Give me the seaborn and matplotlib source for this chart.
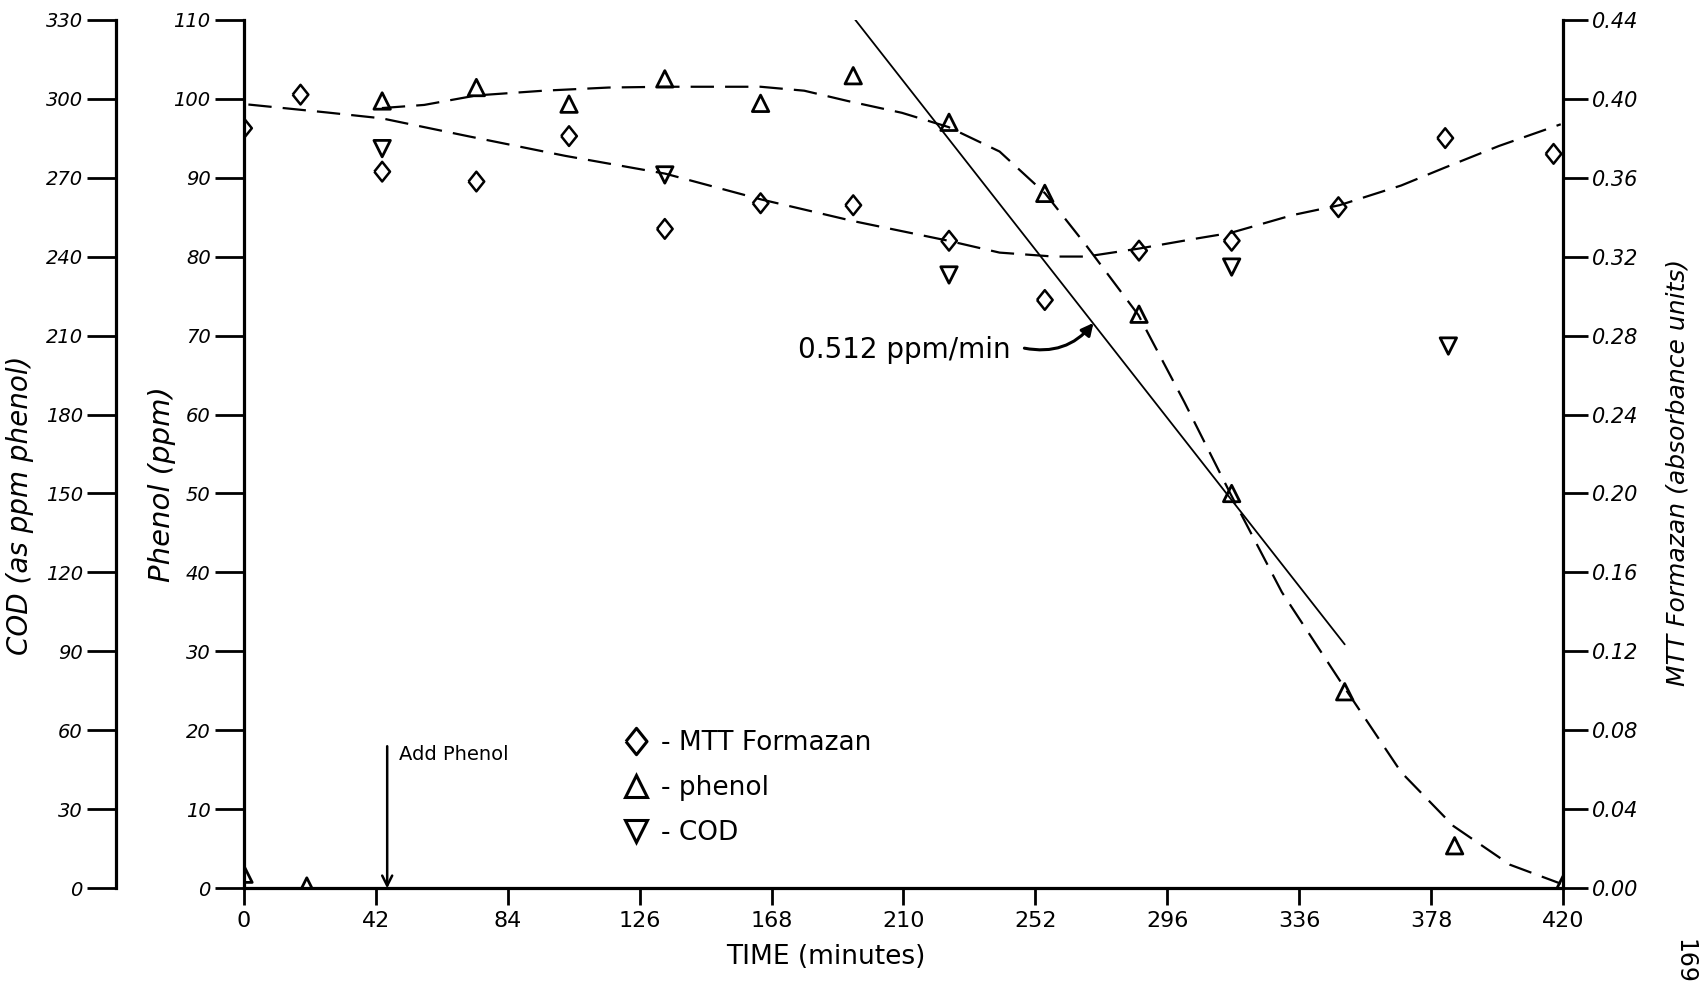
import matplotlib
matplotlib.use("Agg")
import matplotlib.pyplot as plt
import seaborn as sns
import numpy as np
import pandas as pd
from matplotlib.lines import Line2D

# ---------------- data ----------------
mtt_time = [0, 18, 44, 74, 103.5, 134, 164.5, 194, 224.5, 255, 285, 314.5, 348.5, 382.5, 417]
mtt_abs = [0.385, 0.402, 0.363, 0.358, 0.381, 0.334, 0.347, 0.346, 0.328, 0.298, 0.323, 0.328, 0.345, 0.380, 0.372]

phenol_time = [0, 20, 44, 74, 103.5, 134, 164.5, 194, 224.5, 255, 285, 314.5, 350.5, 385.5, 420]
phenol_ppm = [1.8, 0.3, 99.7, 101.4, 99.3, 102.5, 99.4, 102.9, 97.0, 88.0, 72.7, 50.0, 24.9, 5.4, 0.5]

cod_time = [44, 134, 224.5, 314.5, 383.5]
cod_ppm = [281, 271, 233, 236, 206]

mtt_curve_time = [1.4, 26.3, 43.9, 71.2, 102.3, 134.1, 164.5, 193.9, 224.3, 240.6, 257.9, 268.2,
                  284.8, 302.8, 314.2, 333.9, 348.8, 368.5, 382.3, 399.6, 419.3]
mtt_curve_abs = [0.397, 0.393, 0.390, 0.381, 0.371, 0.362, 0.349, 0.338, 0.328, 0.322, 0.320, 0.320,
                 0.324, 0.329, 0.332, 0.341, 0.346, 0.356, 0.365, 0.376, 0.387]

phenol_curve_time = [43.9, 57.4, 74.0, 95.4, 116.1, 134.1, 164.5, 178.4, 192.2, 209.5, 224.3, 240.6,
                     255.1, 268.2, 284.8, 299.4, 314.2, 330.5, 349.8, 368.5, 385.1, 403.1, 419.3]
phenol_curve_ppm = [98.8, 99.2, 100.4, 101.0, 101.4, 101.5, 101.5, 101.0, 99.7, 98.2, 96.4, 93.3,
                    88.0, 81.4, 72.6, 61.6, 49.9, 37.5, 25.8, 14.7, 7.9, 3.0, 0.6]

rate_line_time = [194.6, 350.5]
rate_line_ppm = [110.0, 30.9]

x_tick_values = [0, 42, 84, 126, 168, 210, 252, 294, 336, 378, 420]
x_tick_labels = ["0", "42", "84", "126", "168", "210", "252", "296", "336", "378", "420"]
phenol_ticks = [0, 10, 20, 30, 40, 50, 60, 70, 80, 90, 100, 110]
cod_ticks = [0, 30, 60, 90, 120, 150, 180, 210, 240, 270, 300, 330]
mtt_ticks = [0.00, 0.04, 0.08, 0.12, 0.16, 0.20, 0.24, 0.28, 0.32, 0.36, 0.40, 0.44]
mtt_tick_labels = ["0.00", "0.04", "0.08", "0.12", "0.16", "0.20", "0.24", "0.28", "0.32", "0.36", "0.40", "0.44"]

legend_labels = ["- MTT Formazan", "- phenol", "- COD"]

# ---------------- style ----------------
sns.set_theme(style="white")
plt.rcParams['font.family'] = ['DejaVu Sans']
INK = "black"

fig = plt.figure(figsize=(17.05, 9.81), dpi=100)
ax = fig.add_axes([0.1431, 0.0944, 0.7736, 0.8856])
ax_r = ax.twinx()
ax_c = ax.twinx()

# diamond marker (taller than wide)
diamond = [(-0.8, 0), (0, 1), (0.8, 0), (0, -1), (-0.8, 0)]
dash = (0, (10.5, 5))

# curves
sns.lineplot(x=phenol_curve_time, y=phenol_curve_ppm, ax=ax, color=INK, lw=1.6,
             linestyle=dash, sort=False)
sns.lineplot(x=mtt_curve_time, y=mtt_curve_abs, ax=ax_r, color=INK, lw=1.6,
             linestyle=dash, sort=False)
sns.lineplot(x=rate_line_time, y=rate_line_ppm, ax=ax, color=INK, lw=1.3, sort=False)

# points
sns.scatterplot(x=phenol_time, y=phenol_ppm, ax=ax, marker="^", s=140, color=INK, linewidth=2, zorder=5)
ax.collections[-1].set_facecolor("none"); ax.collections[-1].set_edgecolor(INK)
sns.scatterplot(x=mtt_time, y=mtt_abs, ax=ax_r, marker=diamond, s=200, color=INK, linewidth=1.8, zorder=5)
ax_r.collections[-1].set_facecolor("none"); ax_r.collections[-1].set_edgecolor(INK)
sns.scatterplot(x=cod_time, y=cod_ppm, ax=ax_c, marker="v", s=140, color=INK, linewidth=2, zorder=5)
ax_c.collections[-1].set_facecolor("none"); ax_c.collections[-1].set_edgecolor(INK)

# limits
ax.set_xlim(0, 420)
ax.set_ylim(0, 110)
ax_r.set_ylim(0, 0.44)
ax_c.set_ylim(0, 330)

# spines
SPW = 2.3
for a in (ax, ax_r, ax_c):
    for s in a.spines.values():
        s.set_visible(False)
ax.spines['left'].set_visible(True)
ax.spines['bottom'].set_visible(True)
ax_r.spines['right'].set_visible(True)
ax_c.spines['left'].set_visible(True)
ax_c.spines['left'].set_position(('axes', -0.097))
for s in (ax.spines['left'], ax.spines['bottom'], ax_r.spines['right'], ax_c.spines['left']):
    s.set_linewidth(SPW); s.set_color(INK)

# ticks
ax.set_xticks(x_tick_values, labels=x_tick_labels)
ax.set_yticks(phenol_ticks, labels=[str(v) for v in phenol_ticks])
ax_r.set_yticks(mtt_ticks, labels=mtt_tick_labels)
ax_c.yaxis.set_ticks_position('left')
ax_c.yaxis.set_label_position('left')
ax_c.set_yticks(cod_ticks, labels=[str(v) for v in cod_ticks])

ax.tick_params(axis='x', direction='out', length=12, width=2, color=INK, labelsize=16, pad=4,
               bottom=True, labelcolor=INK)
ax.tick_params(axis='y', direction='out', length=21, width=2, color=INK, labelsize=14, pad=3,
               left=True, labelcolor=INK)
ax_r.tick_params(axis='y', direction='out', length=18, width=2, color=INK, labelsize=15, pad=3,
                 right=True, labelcolor=INK)
ax_c.tick_params(axis='y', direction='out', length=21, width=2, color=INK, labelsize=14, pad=3,
                 left=True, right=False, labelleft=True, labelright=False, labelcolor=INK)
for a in (ax, ax_r, ax_c):
    for lab in a.get_yticklabels():
        lab.set_fontstyle('italic')

ax.set_xlabel(""); ax.set_ylabel(""); ax_r.set_ylabel(""); ax_c.set_ylabel("")

# axis titles
fig.text(0.4846, 0.024, "TIME (minutes)", ha='center', va='center', fontsize=19, color=INK)
fig.text(0.095, 0.507, "Phenol (ppm)", ha='center', va='center', rotation=90, fontsize=21,
         color=INK, fontstyle='italic')
fig.text(0.012, 0.485, "COD (as ppm phenol)", ha='center', va='center', rotation=90, fontsize=20,
         color=INK, fontstyle='italic')
fig.text(0.984, 0.518, "MTT Formazan (absorbance units)", ha='center', va='center', rotation=90,
         fontsize=18, color=INK, fontstyle='italic')
fig.text(0.988, 0.02, "169", ha='center', va='center', rotation=270, fontsize=17, color=INK)

# annotations
ax.text(176.5, 68.2, "0.512 ppm/min", ha='left', va='center', fontsize=20, color=INK)
ax.annotate("", xy=(270.5, 71.6), xytext=(248.5, 68.4), textcoords='data',
            arrowprops=dict(arrowstyle='-|>', connectionstyle='arc3,rad=0.3', lw=2.2,
                            color=INK, shrinkA=0, shrinkB=0, mutation_scale=18))
ax.annotate("", xy=(45.6, 0), xytext=(45.6, 18),
            arrowprops=dict(arrowstyle='->', lw=1.8, color=INK, shrinkA=0, shrinkB=0,
                            mutation_scale=18))
ax.text(49.5, 17, "Add Phenol", ha='left', va='center', fontsize=14, color=INK)

# legend
handles = [
    Line2D([], [], marker=diamond, ls='', mfc='none', mec=INK, ms=19, mew=2.2),
    Line2D([], [], marker='^', ls='', mfc='none', mec=INK, ms=16, mew=2.2),
    Line2D([], [], marker='v', ls='', mfc='none', mec=INK, ms=16, mew=2.2),
]
leg = ax.legend(handles, legend_labels, loc='upper left', bbox_to_anchor=(0.287, 0.182),
                frameon=False, fontsize=19, handlelength=1.0, handletextpad=0.45,
                labelspacing=0.72, borderpad=0, borderaxespad=0)
for t in leg.get_texts():
    t.set_color(INK)

fig.savefig("out.png", dpi=100, facecolor="white")
